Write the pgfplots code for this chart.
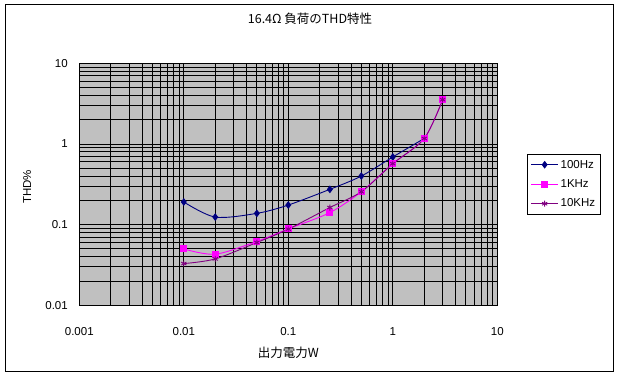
\documentclass[border=0pt]{standalone}
\usepackage{pgfplots}
\pgfplotsset{compat=1.18}
\usepackage{fontspec}
\setmainfont{Liberation Sans}
\newfontfamily\cjk{Noto Sans CJK JP}
\definecolor{navyc}{RGB}{0,0,128}
\definecolor{magc}{RGB}{255,0,255}
\definecolor{purc}{RGB}{128,0,128}
\definecolor{bgc}{RGB}{192,192,192}
\begin{document}
\begin{tikzpicture}
\path[use as bounding box] (0pt,0pt) rectangle (619pt,376pt);
\draw[black, line width=1pt] (5pt,5pt) rectangle (613pt,371pt);
\node[font=\cjk\fontsize{12.5}{14}\selectfont] at (310pt,357.4pt) {16.4Ω 負荷のTHD特性};
\begin{axis}[
  at={(79.3pt,70.7pt)}, anchor=south west,
  width=418pt, height=242pt, scale only axis,
  xmode=log, ymode=log,
  xmin=0.001, xmax=10, ymin=0.01, ymax=10,
  xtick={0.001,0.01,0.1,1,10},
  xticklabels={0.001,0.01,0.1,1,10},
  ytick={0.01,0.1,1,10},
  yticklabels={0.01,0.1,1,10},
  major tick length=0pt, minor tick length=0pt,
  grid=both,
  major grid style={black, line width=0.9pt},
  minor grid style={black, line width=0.9pt},
  axis line style={black, line width=1pt},
  axis background/.style={fill=bgc},
  tick label style={font=\fontsize{11.5}{13}\selectfont},
  xticklabel style={yshift=-19pt},
  yticklabel style={xshift=-8pt},
  xlabel={\cjk\fontsize{12.5}{14}\selectfont 出力電力W},
  ylabel={THD\%},
  label style={font=\fontsize{11.5}{13}\selectfont},
  xlabel style={at={(axis description cs:0.5,-0.197)}, anchor=center},
  ylabel style={at={(axis description cs:-0.125,0.49)}, anchor=center},
  legend style={at={(axis description cs:1.0718,0.627)}, anchor=north west,
    draw=black, line width=0.8pt, fill=white, font=\fontsize{11.5}{13}\selectfont,
    row sep=6pt, inner xsep=3pt, inner ysep=4pt},
  legend cell align=left,
  legend image code/.code={\draw[mark repeat=2,mark phase=2] plot coordinates {(0pt,0pt) (13.5pt,0pt) (27pt,0pt)};},
]
\addplot[navyc, line width=0.9pt, smooth, mark=diamond*, mark size=3.2pt, mark options={solid, fill=navyc}] coordinates {
(0.01,0.191) (0.02,0.124) (0.05,0.138) (0.1,0.175) (0.25,0.274) (0.5,0.40) (1,0.69) (2,1.17)
};
\addlegendentry{100Hz}
\addplot[magc, line width=0.9pt, smooth, mark=square*, mark size=3pt, mark options={solid, fill=magc}] coordinates {
(0.01,0.050) (0.02,0.043) (0.05,0.062) (0.1,0.0885) (0.25,0.141) (0.5,0.256) (1,0.57) (2,1.17) (3,3.54)
};
\addlegendentry{1KHz}
\addplot[purc, line width=0.9pt, smooth, mark=asterisk, mark size=3pt, mark options={solid}] coordinates {
(0.01,0.0329) (0.02,0.0376) (0.05,0.060) (0.1,0.088) (0.25,0.163) (0.5,0.256) (1,0.57) (2,1.17) (3,3.54)
};
\addlegendentry{10KHz\hspace{6pt}}
\end{axis}
\end{tikzpicture}
\end{document}
